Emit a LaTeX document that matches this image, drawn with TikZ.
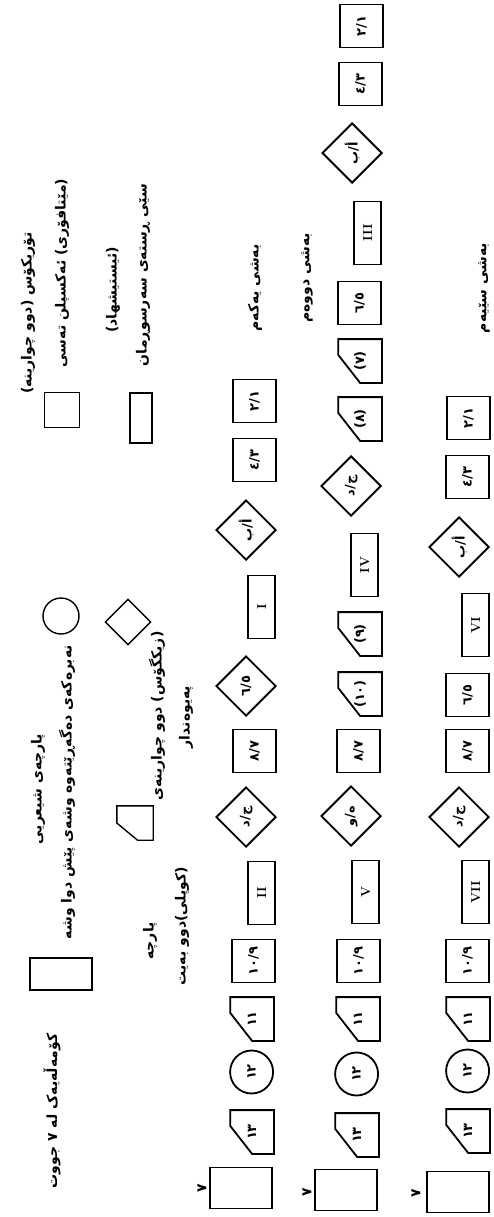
\documentclass[tikz,border=0pt]{standalone}
\usepackage{fontspec}
\newfontfamily\arabicfont[Script=Arabic]{DejaVu Sans}
\TeXXeTstate=1
\usetikzlibrary{shapes.geometric, calc}

\begin{document}
\begin{tikzpicture}[x=1pt, y=-1pt,
  shp/.style={draw, line width=1.8pt, rotate=90, anchor=south, inner sep=0pt, font=\arabicfont\bfseries\fontsize{13}{15}\selectfont},
  sqbox/.style={shp, rectangle, minimum width=43pt, minimum height=43pt},
  romanbox/.style={shp, rectangle, minimum width=63pt, minimum height=27pt, font=\bfseries\fontsize{13}{15}\selectfont},
  groupbox/.style={shp, rectangle, minimum width=41pt, minimum height=62pt},
  linkbox/.style={shp, diamond, minimum width=60pt, minimum height=60pt},
  stressbox/.style={shp, circle, minimum size=43pt},
  cutbox/.style={shp, draw=none, rectangle, minimum width=42pt, minimum height=42pt},
  keyshape/.style={draw, line width=1.4pt, rotate=90, inner sep=0pt},
  legtext/.style={rotate=90, inner sep=0pt, font=\arabicfont\bfseries\fontsize{14}{16}\selectfont}]
  \useasboundingbox (0,0) rectangle (494,1217);

  % legend
  \node[keyshape, rectangle, minimum size=35pt] (keysq) at (62,410) {};
  \node[legtext] (keysqa) at (28,313) {\beginR تۆریکۆس (دوو چوارینە)\endR};
  \node[legtext] (keysqb) at (62,273) {\beginR (مێتافۆری) ئەکسپلن تەسی\endR};
  \node[keyshape, rectangle, minimum width=50pt, minimum height=22pt] (keywide) at (141,418) {};
  \node[legtext] (keywidea) at (113,290) {\beginR (ئیستیشهاد)\endR};
  \node[legtext] (keywideb) at (143,275) {\beginR سێی ڕستەی سەرسوڕمان\endR};
  \node[keyshape, circle, minimum size=36pt] (keycirc) at (61,616) {};
  \node[legtext] (keycirca) at (38,789) {\beginR پارچەی شیعریی\endR};
  \node[legtext] (keycircb) at (67,792) {\beginR نەبرەکەی دەگەڕێتەوە وشەی پێش دوا وشە\endR};
  \node[keyshape, diamond, minimum size=46pt] (keydiam) at (128,622) {};
  \node[legtext] (keydiama) at (157,716) {\beginR (زیکگۆس) دوو چوارینەی\endR};
  \node[legtext] (keydiamb) at (186,717) {\beginR پەیوەندار\endR};
  \node[keyshape, draw=none, rectangle, minimum width=33pt, minimum height=35pt] (keycut) at (135,823) {};
  \node[legtext] (keycuta) at (150,941) {\beginR پارچە\endR};
  \node[legtext] (keycutb) at (182,926) {\beginR (کوپلی)دوو بەیت\endR};
  \node[keyshape, rectangle, minimum width=32pt, minimum height=62pt] (keygrp) at (61,974) {};
  \node[legtext] (keygrpa) at (52,1111) {\beginR کۆمەڵەیەک لە ٧ جووت\endR};

  % part one
  \node[legtext] (r1name) at (255,288) {\beginR بەشی یەکەم\endR};
  \node[groupbox] (r1grp) at (273,1188) {};
  \node[legtext] (r1seven) at (202,1188) {٧};
  \node[cutbox] (r1c13) at (274,1132) {١٣};
  \node[stressbox] (r1s12) at (274,1072) {١٢};
  \node[cutbox] (r1c11) at (274,1019) {١١};
  \node[sqbox] (r1p10) at (276,961) {١٠/٩};
  \node[romanbox] (r1v2) at (276,893) {II};
  \node[linkbox] (r1l3) at (277,817) {\beginR ج/د\endR};
  \node[sqbox] (r1p8) at (277,751) {٨/٧};
  \node[linkbox] (r1l2) at (277,686) {٦/٥};
  \node[romanbox] (r1v1) at (276,607) {I};
  \node[linkbox] (r1l1) at (277,530) {\beginR أ/ب\endR};
  \node[sqbox] (r1p4) at (277,460) {٤/٣};
  \node[sqbox] (r1p2) at (277,401) {٢/١};

  % part two
  \node[legtext] (r2name) at (307,278) {\beginR بەشی دووەم\endR};
  \node[groupbox] (r2grp) at (378,1190) {};
  \node[legtext] (r2seven) at (307,1192) {٧};
  \node[cutbox] (r2c13) at (379,1135) {١٣};
  \node[stressbox] (r2s12) at (379,1074) {١٢};
  \node[cutbox] (r2c11) at (380,1019) {١١};
  \node[sqbox] (r2p10) at (381,961) {١٠/٩};
  \node[romanbox] (r2v5) at (380,892) {V};
  \node[linkbox] (r2l3) at (382,816) {\beginR ه/و\endR};
  \node[sqbox] (r2p8) at (381,751) {٨/٧};
  \node[cutbox] (r2c10) at (382,694) {(١٠)};
  \node[cutbox] (r2c9) at (382,634) {(٩)};
  \node[romanbox] (r2v4) at (379,565) {IV};
  \node[linkbox] (r2l2) at (382,486) {\beginR ج/د\endR};
  \node[cutbox] (r2c8) at (382,419) {(٨)};
  \node[cutbox] (r2c7) at (382,361) {(٧)};
  \node[sqbox] (r2p6) at (382,303) {٦/٥};
  \node[romanbox] (r2v3) at (382,233) {III};
  \node[linkbox] (r2l1) at (383,153) {\beginR أ/ب\endR};
  \node[sqbox] (r2p4) at (383,84) {٤/٣};
  \node[sqbox] (r2p2) at (384,26) {٢/١};

  % part three
  \node[legtext] (r3name) at (484,288) {\beginR بەشی سێیەم\endR};
  \node[groupbox] (r3grp) at (490,1192) {};
  \node[legtext] (r3seven) at (416,1193) {٧};
  \node[cutbox] (r3c13) at (490,1131) {١٣};
  \node[stressbox] (r3s12) at (490,1071) {١٢};
  \node[cutbox] (r3c11) at (490,1019) {١١};
  \node[sqbox] (r3p10) at (490,961) {١٠/٩};
  \node[romanbox] (r3v7) at (490,892) {VII};
  \node[linkbox] (r3l2) at (490,817) {\beginR ج/د\endR};
  \node[sqbox] (r3p8) at (490,751) {٨/٧};
  \node[sqbox] (r3p6) at (490,695) {٦/٥};
  \node[romanbox] (r3v6) at (490,625) {VI};
  \node[linkbox] (r3l1) at (490,547) {\beginR أ/ب\endR};
  \node[sqbox] (r3p4) at (490,477) {٤/٣};
  \node[sqbox] (r3p2) at (491,418) {٢/١};

  % cut corners
  \foreach \n in {r1c13, r1c11, r2c13, r2c11, r2c10, r2c9, r2c8, r2c7, r3c13, r3c11}
    \draw[line width=1.8pt] (\n.north east) -- (\n.south east) -- (\n.south west)
      -- ($(\n.south west)!.5!(\n.north west)$) -- ($(\n.north west)!.64!(\n.north east)$) -- cycle;
  \draw[line width=1.4pt] (keycut.north east) -- (keycut.south east) -- (keycut.south west)
    -- ($(keycut.south west)!.43!(keycut.north west)$) -- ($(keycut.north west)!.5!(keycut.north east)$) -- cycle;
\end{tikzpicture}
\end{document}
